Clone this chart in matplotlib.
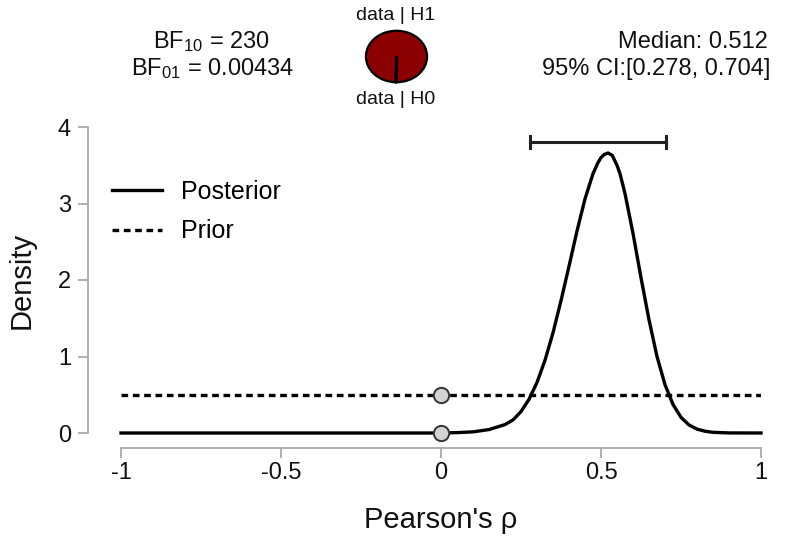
import numpy as np
import matplotlib
matplotlib.use("Agg")
import matplotlib.pyplot as plt

plt.rcParams['font.family'] = ['Liberation Sans', 'DejaVu Sans']
plt.rcParams['mathtext.fontset'] = 'custom'
plt.rcParams['mathtext.rm'] = 'Liberation Sans'
plt.rcParams['mathtext.it'] = 'Liberation Sans:italic'

# posterior density
rho = [-1.0, 0.0, 0.05, 0.1, 0.15, 0.2, 0.225, 0.25, 0.275, 0.3, 0.325, 0.35,
       0.375, 0.4, 0.425, 0.45, 0.475, 0.49, 0.5, 0.51, 0.522, 0.535, 0.55,
       0.56, 0.575, 0.6, 0.625, 0.65, 0.675, 0.7, 0.725, 0.75, 0.775, 0.8,
       0.825, 0.85, 0.9, 1.0]
posterior = [0.0, 0.0, 0.005, 0.015, 0.045, 0.11, 0.171, 0.28, 0.44, 0.661,
             0.951, 1.31, 1.73, 2.18, 2.64, 3.06, 3.39, 3.53, 3.60, 3.64, 3.66,
             3.63, 3.50, 3.38, 3.13, 2.61, 2.03, 1.48, 1.00, 0.632, 0.373,
             0.205, 0.105, 0.051, 0.023, 0.009, 0.001, 0.0]

prior_rho = [-1.0, 1.0]
prior = [0.5, 0.5]

# density at rho = 0
point_x = [0.0, 0.0]
point_y = [0.5, 0.0]

bf10 = 230
bf01 = 0.00434
median = 0.512
ci_low, ci_high = 0.278, 0.704
ci_height = 3.8

W, H = 785, 542
fig = plt.figure(figsize=(W / 100, H / 100), dpi=100)

def box(x0, y0, x1, y1):
    # pixel box (top-left origin) -> figure fraction
    return [x0 / W, 1 - y1 / H, (x1 - x0) / W, (y1 - y0) / H]

ax = fig.add_axes(box(121, 127, 761, 433))
ax.set_xlim(-1, 1)
ax.set_ylim(0, 4)

ax.plot(rho, posterior, color='black', lw=2.4, label='Posterior', zorder=3,
        clip_on=False, solid_joinstyle='round')
ax.plot(prior_rho, prior, color='black', lw=2.4, ls=(0, (2.0, 1.4)),
        label='Prior', zorder=3)
ax.plot(point_x, point_y, 'o', ms=11, mfc='#d3d3d3', mec='#333333', mew=1.4,
        zorder=4, clip_on=False)

# credible interval bar
ax.plot([ci_low, ci_high], [ci_height, ci_height], color='#222222', lw=2.2)
for xc in (ci_low, ci_high):
    ax.plot([xc, xc], [ci_height - 0.08, ci_height + 0.08], color='#222222', lw=2.2)

for s in ('top', 'right'):
    ax.spines[s].set_visible(False)
ax.spines['left'].set_position(('outward', 24))
ax.spines['bottom'].set_position(('outward', 11))
ax.spines['left'].set_bounds(0, 4)
ax.spines['bottom'].set_bounds(-1, 1)
for s in ('left', 'bottom'):
    ax.spines[s].set_color('#aaaaaa')
    ax.spines[s].set_linewidth(1.3)

ax.set_xticks([-1, -0.5, 0, 0.5, 1])
ax.set_xticklabels(['-1', '-0.5', '0', '0.5', '1'])
ax.set_yticks([0, 1, 2, 3, 4])
ax.tick_params(axis='both', colors='#aaaaaa', labelcolor='#111111',
               labelsize=17, length=7, width=1.3)
ax.tick_params(axis='y', pad=5)
ax.tick_params(axis='x', pad=3)

ax.set_xlabel("Pearson's \u03c1", fontsize=21, color='#111111', labelpad=16)
ax.set_ylabel('Density', fontsize=21, color='#111111', labelpad=16)

ax.legend(loc='upper left', bbox_to_anchor=(112 / W, 1 - 180 / H),
          bbox_transform=fig.transFigure, frameon=False, fontsize=18,
          handlelength=2.0, handletextpad=0.75, labelspacing=0.62,
          borderpad=0, borderaxespad=0)

# header texts
fig.text(211 / W, 1 - 42 / H, r'BF$_{10}$ = %d' % bf10, ha='center', va='center',
         fontsize=17, color='#111111')
fig.text(213 / W, 1 - 69 / H, r'BF$_{01}$ = %s' % bf01, ha='center', va='center',
         fontsize=17, color='#111111')
fig.text(768 / W, 1 - 42 / H, 'Median: %.3f' % median, ha='right', va='center',
         fontsize=17, color='#111111')
fig.text(770 / W, 1 - 69 / H, '95%% CI:[%.3f, %.3f]' % (ci_low, ci_high),
         ha='right', va='center', fontsize=17, color='#111111')

# pie of data|H1 vs data|H0
pax = fig.add_axes(box(365, 30, 428, 83))
pax.pie([bf10, 1], colors=['#8b0000', 'white'], startangle=-90 - 0.3,
        counterclock=True,
        wedgeprops=dict(edgecolor='black', linewidth=1.6))
pax.set_aspect('auto')
pax.set_xlim(-1.03, 1.03)
pax.set_ylim(-1.03, 1.03)
fig.text(396 / W, 1 - 16 / H, 'data | H1', ha='center', va='center', fontsize=14,
         color='#111111')
fig.text(396 / W, 1 - 99 / H, 'data | H0', ha='center', va='center', fontsize=14,
         color='#111111')

fig.savefig('out.png', dpi=100)
